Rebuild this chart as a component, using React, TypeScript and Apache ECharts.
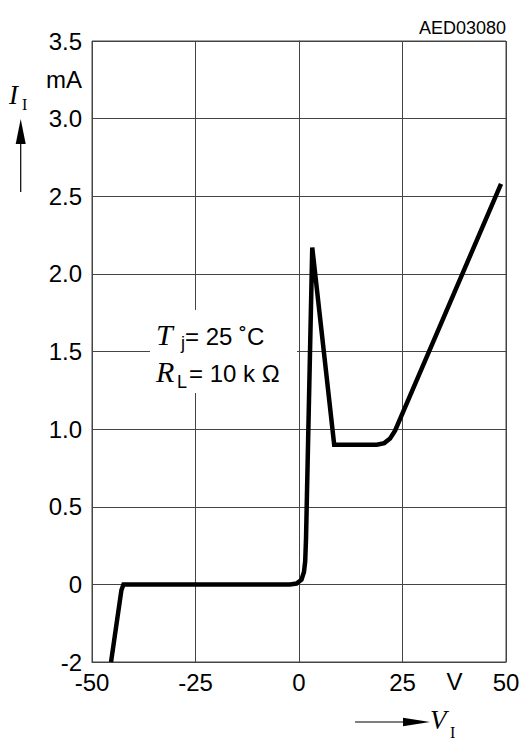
import React, { useEffect, useRef } from "react";
import * as echarts from "echarts";

// Voltage V_I (V) and current I_I (mA)
const vData = [-45.4, -42.9, -42.4, -2.2, -0.6, 0.6, 1.2, 1.5, 1.7, 3.2, 8.5, 18.8, 20.6, 22.0, 23.2, 48.8];
const iData = [-2, -0.15, 0, 0, 0.005, 0.03, 0.08, 0.15, 0.3, 2.17, 0.9, 0.9, 0.91, 0.94, 0.99, 2.58];

// Y tick labels (equally spaced, non-linear scale)
const yTickLabels = ["-2", "0", "0.5", "1.0", "1.5", "2.0", "2.5", "3.0", "3.5"];
const xTicks = [-50, -25, 0, 25, 50];

// map mA to the equal-step plot scale
const toScale = (y: number) => (y >= 0 ? 1 + y / 0.5 : (y + 2) / 2);

const SANS = "'Liberation Sans', Arial, sans-serif";
const SERIF = "'Liberation Serif', 'Times New Roman', serif";

export default function App() {
  const ref = useRef<HTMLDivElement>(null);
  useEffect(() => {
    const chart = echarts.init(ref.current!, undefined, { renderer: "svg" });
    const data = vData.map((v, k) => [v, toScale(iData[k])]);
    chart.setOption({
      animation: false,
      backgroundColor: "#ffffff",
      grid: { left: 92, right: 23, top: 41, bottom: 84, show: true, borderColor: "#444", borderWidth: 1 },
      xAxis: {
        type: "value",
        min: -50,
        max: 50,
        interval: 25,
        axisLine: { show: true, lineStyle: { color: "#444", width: 1 } },
        axisTick: { show: false },
        splitLine: { show: true, lineStyle: { color: "#444", width: 1 } },
        axisLabel: {
          color: "#000",
          fontFamily: SANS,
          fontSize: 24,
          margin: 8,
          formatter: (v: number) => (xTicks.includes(v) ? String(v) : ""),
        },
      },
      yAxis: {
        type: "value",
        min: 0,
        max: 8,
        interval: 1,
        axisLine: { show: true, lineStyle: { color: "#444", width: 1 } },
        axisTick: { show: false },
        splitLine: { show: true, lineStyle: { color: "#444", width: 1 } },
        axisLabel: {
          color: "#000",
          fontFamily: SANS,
          fontSize: 24,
          margin: 10,
          formatter: (v: number) => yTickLabels[Math.round(v)] ?? "",
        },
      },
      series: [
        {
          type: "line",
          data,
          showSymbol: false,
          symbol: "none",
          lineStyle: { color: "#000", width: 4.5, join: "miter" },
          z: 5,
        },
      ],
      graphic: [
        // white box behind the annotation
        { type: "rect", z: 50, shape: { x: 150, y: 310, width: 147, height: 83 }, style: { fill: "#fff" } },
        { type: "text", z: 60, x: 156, y: 349, style: { text: "T", font: `italic 30px ${SERIF}`, fill: "#000", textVerticalAlign: "bottom" } },
        { type: "text", z: 60, x: 181, y: 352, style: { text: "j", font: `18px ${SANS}`, fill: "#000", textVerticalAlign: "bottom" } },
        { type: "text", z: 60, x: 185, y: 348, style: { text: "= 25 ˚C", font: `24px ${SANS}`, fill: "#000", textVerticalAlign: "bottom" } },
        { type: "text", z: 60, x: 156, y: 386, style: { text: "R", font: `italic 30px ${SERIF}`, fill: "#000", textVerticalAlign: "bottom" } },
        { type: "text", z: 60, x: 177, y: 391, style: { text: "L", font: `18px ${SANS}`, fill: "#000", textVerticalAlign: "bottom" } },
        { type: "text", z: 60, x: 189, y: 385, style: { text: "= 10 k Ω", font: `24px ${SANS}`, fill: "#000", textVerticalAlign: "bottom" } },
        // top-right code
        { type: "text", z: 60, x: 506, y: 37, style: { text: "AED03080", font: `18px ${SANS}`, fill: "#000", textAlign: "right", textVerticalAlign: "bottom" } },
        // y unit and label
        { type: "text", z: 60, x: 82, y: 79, style: { text: "mA", font: `24px ${SANS}`, fill: "#000", textAlign: "right", textVerticalAlign: "middle" } },
        { type: "text", z: 60, x: 9, y: 108, style: { text: "I", font: `italic 27px ${SERIF}`, fill: "#000", textVerticalAlign: "bottom" } },
        { type: "text", z: 60, x: 22, y: 112, style: { text: "I", font: `16px ${SERIF}`, fill: "#000", textVerticalAlign: "bottom" } },
        { type: "line", z: 60, shape: { x1: 20.7, y1: 192, x2: 20.7, y2: 140 }, style: { stroke: "#000", lineWidth: 1.2 } },
        { type: "polygon", z: 60, shape: { points: [[20.7, 119], [15.7, 144], [25.7, 144]] }, style: { fill: "#000" } },
        // x unit and label
        { type: "text", z: 60, x: 454.5, y: 681, style: { text: "V", font: `24px ${SANS}`, fill: "#000", textAlign: "center", textVerticalAlign: "middle" } },
        { type: "line", z: 60, shape: { x1: 355, y1: 722, x2: 406, y2: 722 }, style: { stroke: "#000", lineWidth: 1.2 } },
        { type: "polygon", z: 60, shape: { points: [[430, 722], [403, 717.8], [403, 726.2]] }, style: { fill: "#000" } },
        { type: "text", z: 60, x: 430, y: 733, style: { text: "V", font: `italic 27px ${SERIF}`, fill: "#000", textVerticalAlign: "bottom" } },
        { type: "text", z: 60, x: 450, y: 740, style: { text: "I", font: `16px ${SERIF}`, fill: "#000", textVerticalAlign: "bottom" } },
      ],
    });
    return () => chart.dispose();
  }, []);
  return <div ref={ref} style={{ position: "fixed", left: 0, top: 0, width: 529, height: 746 }} />;
}
